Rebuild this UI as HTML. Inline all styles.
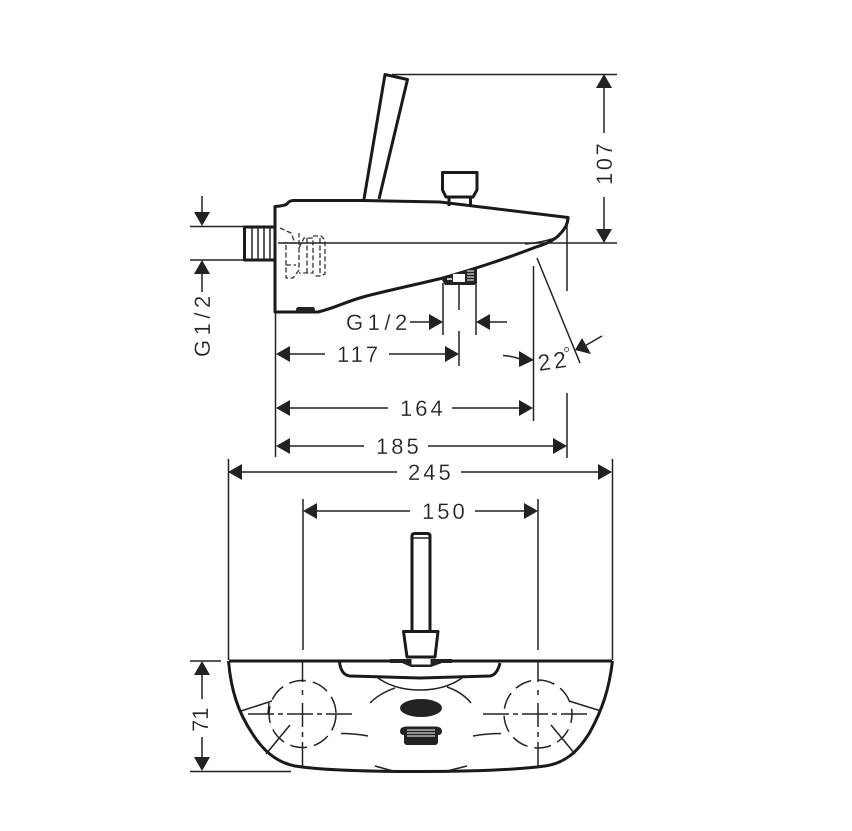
<!DOCTYPE html>
<html><head><meta charset="utf-8"><style>
html,body{margin:0;padding:0;background:#fff;width:852px;height:831px;overflow:hidden}
svg{display:block}
text{font-family:"Liberation Sans",sans-serif;font-size:22px;fill:#222;stroke:#fff;stroke-width:.2px}
.t{fill:none;stroke:#222;stroke-width:1.5}
.m{fill:none;stroke:#1c1c1c;stroke-width:2}
.k{fill:none;stroke:#1a1a1a;stroke-width:3;stroke-linejoin:round}
.a{fill:#222;stroke:none}
</style></head><body>
<svg width="852" height="831" viewBox="0 0 852 831" xmlns="http://www.w3.org/2000/svg">
<!-- Side view -->
<path class="k" d="M364 199L385 74.500L407.500 79.500L379 199" stroke-width="2.800"/>
<path class="k" d="M275 312V206.500Q284 206 287 204Q289 200.500 294 200.500H363L440 202L568 217.500Q568 226 560 234Q553 242 536 247C500 261 470 270 443 278C410 286 385 291 363 297C345 302 335 308 318 312Z" stroke-width="3.400"/>
<path class="t" d="M525 244Q540 243 555 238"/>
<rect x="296" y="307" width="19" height="5" rx="2.500" fill="#222"/>
<!-- knob -->
<path class="k" d="M442.500 172.500H477V190L473 197H446L442.500 190Z" stroke-width="3"/>
<path class="k" d="M449 198V206M470.500 198V207" stroke-width="2.400"/>
<!-- connector -->
<path class="k" d="M275 227H244.500V260H275" stroke-width="3.200"/>
<path class="t" d="M252 227V260M258 227V260M264 227V260M270 227V260"/>
<!-- dashed -->
<g fill="none" stroke="#333" stroke-width="1.300" stroke-dasharray="5 2.500">
<path d="M280 228L291 233L295 243H283"/>
<path d="M286 245V278H293L299 270V233"/>
<path d="M299 248L304 238H313V273H299"/>
<path d="M307 238V273"/>
<path d="M313 236H321L325 240V274L320 276H313"/>
<path d="M320 238V276"/>
<path d="M286 265H296"/>
</g>
<!-- bottom fitting -->
<path d="M442 280L455 273L477 268V283L474 285H445Z" fill="#222"/>
<rect x="453" y="274" width="12" height="8" fill="#fff"/>
<path d="M467 271H474M467 274H474M467 277H474M467 280H474" stroke="#fff" stroke-width="1"/>
<path d="M447 279H452" stroke="#fff" stroke-width="1.500"/>
<!-- lines -->
<path class="t" d="M392 74.500H617M278 243H617M190 226.500H245M190 260H245M275.500 312V457M443 283V335M476 283V335M459 285V310M459 331V366M533.500 266V421M567 225V291M567 393V458M537 258L580 363M228.500 459V660M612.500 459V660M303 499V650M538 499V650"/>
<path class="t" d="M604 88V133M604 197V229M202 196V212M202 274V292M410 322H429M490 322H507M290 354H325M389 354H446M290 408H388M452 408H520M290 446H364M428 446H553M242 472H397M461 472H598M317 511H410M475 511H525M202 675V699M202 737V757M503 355.500Q512 356 520 359M602 336L583 347"/>
<!-- arrowheads -->
<g class="a">
<path d="M604 74L596 88H612Z"/><path d="M604 243L596 229H612Z"/>
<path d="M202 226L194 212H210Z"/><path d="M202 260L194 274H210Z"/>
<path d="M443 322L429 314V330Z"/><path d="M476 322L490 314V330Z"/>
<path d="M276 354L290 346V362Z"/><path d="M459 354L445 346V362Z"/>
<path d="M276 408L290 400V416Z"/><path d="M533 408L519 400V416Z"/>
<path d="M276 446L290 438V454Z"/><path d="M567 446L553 438V454Z"/>
<path d="M228 472L242 464V480Z"/><path d="M612 472L598 464V480Z"/>
<path d="M303 511L317 503V519Z"/><path d="M538 511L524 503V519Z"/>
<path d="M534 360L519 351V367Z"/>
<path d="M575 350L591 354L582 338Z"/>
<path d="M202 661L194 675H210Z"/><path d="M202 771L194 757H210Z"/>
</g>
<!-- text -->
<text transform="translate(612,185) rotate(-90)" letter-spacing="2.500">107</text>
<text transform="translate(210,357) rotate(-90)" letter-spacing="4.500">G1/2</text>
<text x="346" y="330" letter-spacing="4.500">G1/2</text>
<text x="337" y="362" letter-spacing="3">117</text>
<text x="400" y="416" letter-spacing="3">164</text>
<text x="376" y="454" letter-spacing="3">185</text>
<text x="408" y="480" letter-spacing="3">245</text>
<text x="422" y="519" letter-spacing="3">150</text>
<text transform="translate(539,371) rotate(-8)" letter-spacing="3" style="font-size:23px">22</text>
<text x="563" y="360" style="font-size:18px">°</text>
<text transform="translate(208,732) rotate(-90)" letter-spacing="0">71</text>
<!-- Top view -->
<path class="k" d="M412 631V536Q412 533.500 415 533.500H427Q430 533.500 430 536V631" stroke-width="2.800"/>
<path class="t" d="M413 538H429"/>
<path class="k" d="M403.500 631.500H438L435 657H407Z" stroke-width="2.800"/>
<path class="k" d="M229 661H612" stroke-width="3.400"/>
<path class="k" d="M228.500 661C231 690 238 712 252 733C262 749 275 762 295 766C320 770 370 771.500 420 771.500C470 771.500 515 770 545 766C565 763 578 752 590 732C602 710 609 690 612.500 661" stroke-width="3.200"/>
<path d="M390 659H452V663H442L431 667H411L402 663H390Z" fill="#222"/>
<rect x="411.500" y="658.500" width="19" height="6" fill="#fff"/>
<path class="k" stroke-width="2.200" d="M339.500 662Q341 675 350 676L420 678L490 676Q497 675 500 663"/>
<path class="t" d="M378 678Q395 690 420 690Q445 690 462 678M370 703Q380 693 395 688M447 687Q462 692 471 703M241 711L272 701M269 703L268 714M266 754L290 725M601 711L569 701M575 754L551 725M341 733.500Q355 733.500 368 736M501 733.500Q487 733.500 473 736M375 766L393 771M467 766L447 771" stroke-width="1.800"/>
<ellipse cx="421" cy="708" rx="21" ry="9" fill="#222"/>
<path d="M400 731Q400 727 406 726.500H436Q442 727 442 731Q442 735 438 735V743L436 745H406L404 743V735Q400 735 400 731Z" fill="#222"/>
<path d="M407 730H435M407 733H435M407 736H435" stroke="#fff" stroke-width="1"/>
<g fill="none" stroke="#222" stroke-width="1.500">
<circle cx="302.500" cy="714" r="33.500" stroke-dasharray="17 7"/>
<circle cx="538" cy="714" r="34" stroke-dasharray="17 7" stroke-dashoffset="8"/>
<path d="M248 714H352M483 714H587" stroke-dasharray="26 4 5 4"/>
<path d="M302.500 662V682M302.500 690V695M302.500 703V727M302.500 732V737M302.500 742V767M538 662V682M538 690V695M538 703V727M538 732V737M538 742V767"/>
</g>
<path class="t" d="M190 661H221M190 771.500H291"/>
</svg>
</body></html>
